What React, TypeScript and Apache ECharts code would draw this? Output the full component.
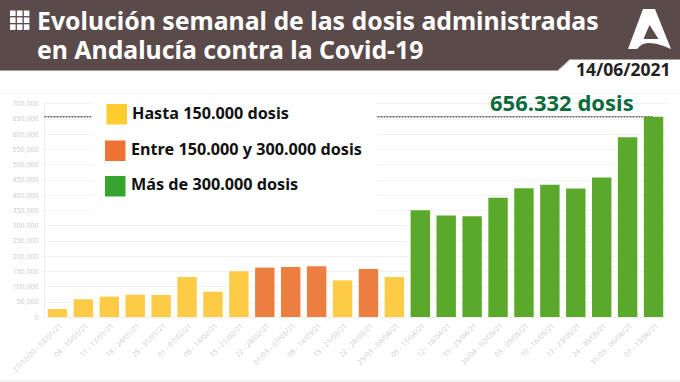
import React, { useEffect, useRef } from "react";
import * as echarts from "echarts";

const categories = [
  "27/12/20 - 03/01/21", "04 - 10/01/21", "11 - 17/01/21", "18 - 24/01/21", "25 - 31/01/21",
  "01 - 07/02/21", "08 - 14/02/21", "15 - 21/02/21", "22 - 28/02/21", "01/03 - 07/03/21",
  "08 - 14/03/21", "15 - 21/03/21", "22 - 28/03/21", "29/03 - 04/04/21", "05 - 11/04/21",
  "12 - 18/04/21", "19 - 25/04/21", "26/04 - 02/05/21", "03 - 09/05/21", "10 - 16/05/21",
  "17 - 23/05/21", "24 - 30/05/21", "31/05 - 06/06/21", "07 - 13/06/21",
];
const doses = [
  26000, 58000, 67000, 73000, 72000, 131000, 83000, 150000, 162000, 164000, 166000, 120000,
  157000, 131000, 350000, 333000, 330000, 391000, 422000, 434000, 421000, 457000, 589000, 656332,
];
const peak = 656332;
const titleLines = ["Evolución semanal de las dosis administradas", "en Andalucía contra la Covid-19"];
const dateLabel = "14/06/2021";
const peakLabel = "656.332 dosis";
const legendLabels = ["Hasta 150.000 dosis", "Entre 150.000 y 300.000 dosis", "Más de 300.000 dosis"];

const FONT = "'Noto Sans', sans-serif";
const barColor = (v: number) => (v <= 150000 ? "#fdcb45" : v <= 300000 ? "#ec7e40" : "#5aa92b");

echarts.graphic.registerShape(
  "juntaLogo",
  echarts.graphic.extendPath(
    "M643 9 L655 9 L671 49 C664 46 657 43 648 43 C644 43 640 45 637 49 L628 49 Z M649.5 25 L643.5 39 L658.5 39 Z",
    {}
  )
);

export default function App() {
  const ref = useRef<HTMLDivElement>(null);
  useEffect(() => {
    const chart = echarts.init(ref.current!, undefined, { renderer: "svg" });
    const squares: any[] = [];
    for (let r = 0; r < 3; r++)
      for (let c = 0; c < 3; c++)
        squares.push({
          type: "rect", z: 110,
          shape: { x: 10 + c * 6.9, y: 10.5 + r * 6.9, width: 5.6, height: 5.6 },
          style: { fill: "#fff" },
        });
    chart.setOption({
      animation: false,
      backgroundColor: "#fff",
      grid: { left: 44.5, right: 13.5, top: 103.5, bottom: 65, containLabel: false },
      xAxis: [
        {
          type: "category", data: categories,
          axisTick: { show: false },
          axisLine: { lineStyle: { color: "#eeeeee" } },
          axisLabel: { interval: 0, rotate: 45, fontSize: 7.2, color: "#cfcfcf", fontFamily: FONT, margin: 10, padding: [0, -4, 0, 0] },
        },
        { type: "value", min: 0, max: categories.length, show: false },
      ],
      yAxis: {
        type: "value", min: 0, max: 700000, interval: 50000,
        axisLine: { show: true, lineStyle: { color: "#eeeeee" } },
        axisTick: { show: false },
        splitLine: { lineStyle: { color: "#f2f2f2" } },
        axisLabel: {
          fontSize: 7, color: "#cfcfcf", fontFamily: FONT, margin: 6,
          formatter: (v: number) => v.toLocaleString("en-US"),
        },
      },
      series: [
        {
          type: "bar", data: doses, barWidth: 19.4, z: 3,
          itemStyle: { color: (p: any) => barColor(p.value) },
        },
        {
          type: "line", xAxisIndex: 1, z: 2, symbol: "none", silent: true,
          data: [[0, peak], [categories.length - 0.5, peak]],
          lineStyle: { color: "#666", width: 1.5, type: [2, 1] },
        },
      ],
      graphic: [
        { type: "polygon", z: 100, shape: { points: [[0, 0], [680, 0], [680, 59], [570, 59], [558, 70], [0, 70]] }, style: { fill: "#5b4a4a" } },
        { type: "polyline", z: 101, shape: { points: [[0, 70.5], [558, 70.5], [570, 59.5], [680, 59.5]] }, style: { stroke: "#a9a09f", fill: "none", lineWidth: 1 } },
        ...squares,
        { type: "text", z: 110, x: 37, y: 5.5, style: { text: titleLines.join("\n"), font: `bold 24.8px ${FONT}`, lineHeight: 29, fill: "#fff" } },
        { type: "juntaLogo", z: 110, style: { fill: "#fff" } },
        { type: "text", z: 110, x: 576, y: 60, style: { text: dateLabel, font: `bold 17.5px ${FONT}`, fill: "#222" } },
        { type: "rect", z: 90, shape: { x: 0, y: 93, width: 680, height: 1 }, style: { fill: "#f4f4f4" } },
        { type: "rect", z: 90, shape: { x: 0, y: 380, width: 680, height: 1.5 }, style: { fill: "#eeeeee" } },
        { type: "rect", z: 90, shape: { x: 91.5, y: 95, width: 285, height: 120 }, style: { fill: "#fff" } },
        { type: "rect", z: 95, shape: { x: 106.5, y: 104, width: 20.5, height: 20.5 }, style: { fill: "#fdcc2e" } },
        { type: "rect", z: 95, shape: { x: 105, y: 140.5, width: 20.5, height: 20.5 }, style: { fill: "#ee7333" } },
        { type: "rect", z: 95, shape: { x: 105, y: 176, width: 20.5, height: 20.5 }, style: { fill: "#36a52e" } },
        { type: "text", z: 95, x: 132, y: 105, style: { text: legendLabels[0], font: `bold 16.2px ${FONT}`, fill: "#111" } },
        { type: "text", z: 95, x: 131, y: 141, style: { text: legendLabels[1], font: `bold 16.2px ${FONT}`, fill: "#111" } },
        { type: "text", z: 95, x: 131, y: 176, style: { text: legendLabels[2], font: `bold 16.2px ${FONT}`, fill: "#111" } },
        { type: "text", z: 95, x: 490, y: 91, style: { text: peakLabel, font: `bold 22px ${FONT}`, fill: "#0b6b3c" } },
      ],
    });
    return () => chart.dispose();
  }, []);
  return <div ref={ref} style={{ position: "fixed", left: 0, top: 0, width: 680, height: 382 }} />;
}
